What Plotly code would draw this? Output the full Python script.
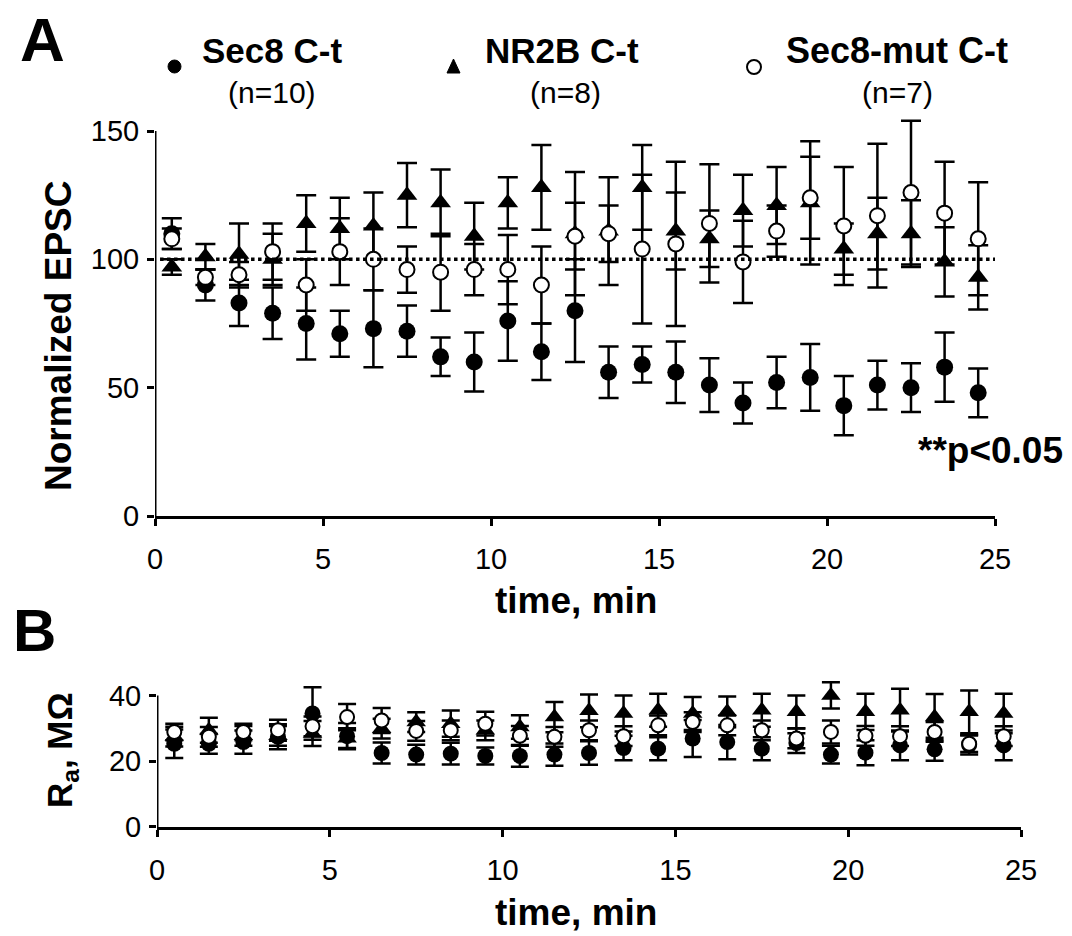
import plotly.graph_objects as go

# ---------------- data ----------------
time_min = [0.5, 1.5, 2.5, 3.5, 4.5, 5.5, 6.5, 7.5, 8.5, 9.5, 10.5, 11.5, 12.5,
            13.5, 14.5, 15.5, 16.5, 17.5, 18.5, 19.5, 20.5, 21.5, 22.5, 23.5, 24.5]

# Panel A: normalized EPSC (%)
sec8_epsc = [110, 90, 83, 79, 75, 71, 73, 72, 62, 60, 76, 64, 80, 56, 59, 56, 51, 44, 52, 54, 43, 51, 50, 58, 48]
sec8_epsc_err = [6, 6, 9, 10, 14, 9, 15, 10, 7.5, 11.5, 15.5, 11, 20, 10, 7, 12, 10.5, 8, 10, 13, 11.5, 9.5, 9.5, 13.5, 9.5]
nr2b_epsc = [97, 101, 102, 100, 114, 112, 113, 125, 122, 109, 122, 128, 110, 111, 128, 111, 108, 119, 121, 122, 104, 110, 110, 99, 93]
nr2b_epsc_err = [3, 5, 12, 10, 11, 12, 13, 12.5, 13, 13, 10, 16.5, 24, 21, 16.5, 15, 11, 14, 15, 24, 10, 14, 13, 13.5, 12.5]
mut_epsc = [108, 93, 94, 103, 90, 103, 100, 96, 95, 96, 96, 90, 109, 110, 104, 106, 114, 99, 111, 124, 113, 117, 126, 118, 108]
mut_epsc_err = [4, 3, 5, 11, 10, 13, 12, 9, 15, 10, 13.5, 15, 13, 11, 29, 32, 23, 16, 10, 16, 23, 28, 28, 20, 22]

# Panel B: access resistance (MOhm)
sec8_ra = [25.3, 25.3, 25.8, 27.4, 34.5, 27.6, 22.5, 22, 22.3, 21.6, 21.6, 22, 22.5, 24, 23.8, 26.9, 25.8, 23.8, 25.5, 22, 22.6, 24.8, 23.6, 25, 24.8]
sec8_ra_err = [4.3, 3, 3.5, 3.8, 8, 4, 3.2, 3, 3.3, 2.6, 3.3, 3.4, 3.6, 3.7, 3.5, 5.6, 5.2, 3.5, 3, 2.7, 3.8, 4.5, 3.5, 3, 4.5]
nr2b_ra = [27.5, 29.4, 27.7, 27.7, 28.4, 27, 29.9, 31.9, 31.4, 29.4, 30.4, 33.4, 35.3, 34.5, 35.5, 34.5, 35, 35.5, 35, 40, 35, 35.5, 33.4, 35, 34.5]
nr2b_ra_err = [3, 3.8, 3, 3, 3.8, 3, 3, 3, 4, 3, 3.6, 4.6, 5, 5.5, 5, 5, 4.7, 5, 5, 4, 5.5, 6.5, 7, 6.5, 6]
mut_ra = [28.9, 27.4, 28.9, 29.4, 30.6, 33.4, 32.4, 29.2, 29.4, 31.4, 27.7, 27.4, 29.4, 27.6, 30.9, 31.9, 30.9, 29.4, 26.9, 28.9, 27.7, 27.6, 28.9, 25.3, 27.6]
mut_ra_err = [2.5, 3, 2.5, 3.2, 3, 4, 3.8, 3, 3, 3.6, 3, 3, 3, 3, 3, 3, 3, 3, 3, 3.5, 3, 3, 3, 2.5, 3]

series_names = ["Sec8 C-t", "NR2B C-t", "Sec8-mut C-t"]
series_n = ["(n=10)", "(n=8)", "(n=7)"]
x_ticks = [0, 5, 10, 15, 20, 25]
ya_ticks = [0, 50, 100, 150]
yb_ticks = [0, 20, 40]
baseline = 100

W, H = 1072, 936
FONT = "Liberation Sans, Arial, sans-serif"

def px(x):
    return x / W

def py(y):
    return 1 - y / H

fig = go.Figure()

styles = [
    dict(symbol="circle", color="black", line=dict(color="black", width=0)),
    dict(symbol="triangle-up", color="black", line=dict(color="black", width=0)),
    dict(symbol="circle", color="white", line=dict(color="black", width=2)),
]
sizes_a = [17, 18, 15]
sizes_b = [16, 17, 14]

panel_a = [(sec8_epsc, sec8_epsc_err), (nr2b_epsc, nr2b_epsc_err), (mut_epsc, mut_epsc_err)]
panel_b = [(sec8_ra, sec8_ra_err), (nr2b_ra, nr2b_ra_err), (mut_ra, mut_ra_err)]

for i, (vals, errs) in enumerate(panel_a):
    fig.add_trace(go.Scatter(
        x=time_min, y=vals, mode="markers", name=series_names[i],
        marker=dict(size=sizes_a[i], **styles[i]),
        error_y=dict(type="data", array=errs, visible=True, color="black",
                     thickness=2.5, width=10),
        xaxis="x", yaxis="y", showlegend=False, cliponaxis=False))

for i, (vals, errs) in enumerate(panel_b):
    fig.add_trace(go.Scatter(
        x=time_min, y=vals, mode="markers", name=series_names[i],
        marker=dict(size=sizes_b[i], **styles[i]),
        error_y=dict(type="data", array=errs, visible=True, color="black",
                     thickness=2.5, width=9),
        xaxis="x2", yaxis="y2", showlegend=False, cliponaxis=False))

tickfont = dict(family=FONT, size=29, color="black")
common_x = dict(range=[0, 25], tickvals=x_ticks, ticks="outside", ticklen=7,
                tickwidth=3, tickcolor="black", showline=True, linewidth=3,
                linecolor="black", showgrid=False, zeroline=False,
                tickfont=tickfont, fixedrange=True, ticklabelstandoff=8)
common_y = dict(ticks="outside", ticklen=7, tickwidth=3, tickcolor="black",
                showline=False, showgrid=False, zeroline=False,
                tickfont=tickfont, ticklabelstandoff=2)

fig.update_layout(
    width=W, height=H,
    margin=dict(l=0, r=0, t=0, b=0),
    paper_bgcolor="white", plot_bgcolor="white",
    template="none",
    xaxis=dict(domain=[155 / W, 995 / W], anchor="y", **common_x),
    yaxis=dict(domain=[py(516), py(516 - 156 * 385 / 150)], range=[0, 156],
               tickvals=ya_ticks, anchor="x", **common_y),
    xaxis2=dict(domain=[157 / W, 1021 / W], anchor="y2", **common_x),
    yaxis2=dict(domain=[py(827), py(827 - 44.5 * 3.29)], range=[0, 44.5],
                tickvals=yb_ticks, anchor="x2", **common_y),
)

shapes = [
    # y axis lines (stop at top tick)
    dict(type="line", xref="x", yref="y", x0=0, x1=0, y0=0, y1=150,
         line=dict(color="black", width=3)),
    dict(type="line", xref="x2", yref="y2", x0=0, x1=0, y0=0, y1=40,
         line=dict(color="black", width=3)),
    # dotted 100% baseline
    dict(type="line", xref="x", yref="y", x0=0.15, x1=25.1, y0=baseline, y1=baseline,
         line=dict(color="black", width=3.5, dash="dot")),
    # legend markers
    dict(type="circle", xref="paper", yref="paper",
         x0=px(168), x1=px(181), y0=py(73), y1=py(60),
         fillcolor="black", line=dict(color="black", width=1)),
    dict(type="path", xref="paper", yref="paper",
         path=f"M {px(447)},{py(73)} L {px(460)},{py(73)} L {px(453.5)},{py(59)} Z",
         fillcolor="black", line=dict(color="black", width=1)),
    dict(type="circle", xref="paper", yref="paper",
         x0=px(747), x1=px(761), y0=py(74), y1=py(60),
         fillcolor="white", line=dict(color="black", width=2)),
]
fig.update_layout(shapes=shapes)

def ann(text, x, y, size, bold=True, angle=0, xanchor="center"):
    return dict(text=f"<b>{text}</b>" if bold else text, x=px(x), y=py(y),
                xref="paper", yref="paper", showarrow=False,
                xanchor=xanchor, yanchor="middle", textangle=angle,
                font=dict(family=FONT, size=size, color="black"))

annotations = [
    ann("A", 42, 40, 62),
    ann("B", 34, 630, 60),
    ann(series_names[0], 272, 50, 35),
    ann(series_n[0], 272, 93, 30, bold=False),
    ann(series_names[1], 562, 50, 35),
    ann(series_n[1], 565, 93, 30, bold=False),
    ann(series_names[2], 897, 50, 36),
    ann(series_n[2], 897, 93, 30, bold=False),
    ann("Normalized EPSC", 58, 336, 37, angle=-90),
    ann("time, min", 576, 600, 37),
    ann("**p<0.05", 990, 450, 37),
    ann("R<sub>a</sub>, MΩ", 62, 750, 35, angle=-90),
    ann("time, min", 576, 912, 37),
]
fig.update_layout(annotations=annotations)

fig.write_html("out.html",
               config={"displayModeBar": False},
               post_script="document.body.style.margin='0px';document.body.style.padding='0px';document.body.style.overflow='hidden';")
